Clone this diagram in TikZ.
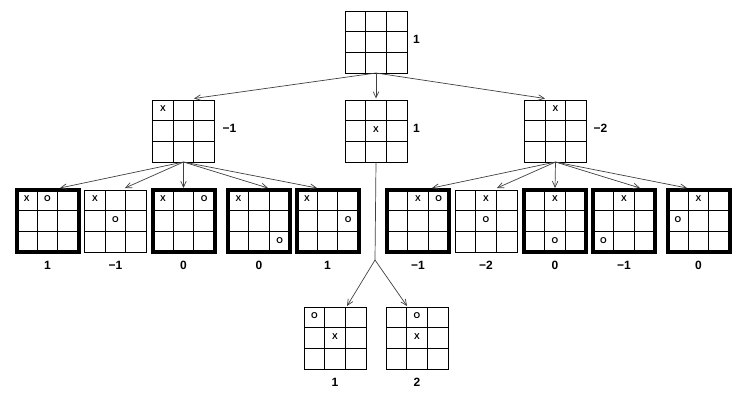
\documentclass[tikz,border=0pt]{standalone}
\usepackage{fontspec}
\setmainfont{Liberation Sans}
\usetikzlibrary{calc}
\usetikzlibrary{arrows.meta}
\usetikzlibrary{positioning}

% one 3x3 board: name, centre, extra style
\newcommand{\drawboard}[3]{%
  \node[Board,#3] (#1) at (#2) {};
  \foreach \k in {1,2}{
    \draw[GridLine] ($(#1.north west)!\k/3!(#1.north east)$) -- ($(#1.south west)!\k/3!(#1.south east)$);
    \draw[GridLine] ($(#1.north west)!\k/3!(#1.south west)$) -- ($(#1.north east)!\k/3!(#1.south east)$);
  }
}
% a mark in a cell: board, column, row, letter
\newcommand{\putmark}[4]{%
  \node[Mark] (#1-#2#3) at ($(#1.north west)+({(#2-0.5)*62/3},{(#3-0.5)*62/3-1.5})$) {#4};
}

\begin{document}
\begin{tikzpicture}[
x=1pt, y=-1pt,
Board/.style={draw=black,line width=1pt,minimum size=62pt,inner sep=0pt,outer sep=0pt},
Win/.style={line width=4pt},
GridLine/.style={draw=black,line width=1pt},
Mark/.style={font=\fontsize{8.5}{8.5}\selectfont\bfseries,inner sep=0pt},
Value/.style={font=\fontsize{12}{12}\selectfont\bfseries,inner sep=0pt,text height=9pt,text depth=0pt},
Move/.style={-{Straight Barb[length=6pt,width=5.5pt]},draw=black!75,line width=0.7pt}
]
\useasboundingbox (0,0) rectangle (751,400);

% top of the tree
\drawboard{root}{376,42}{}
\drawboard{L}{183.5,131}{}
\drawboard{M}{376,131}{}
\drawboard{R}{555.5,131}{}
\putmark{L}{1}{1}{X}
\putmark{M}{2}{2}{X}
\putmark{R}{2}{1}{X}

\node[Value,right=6pt of root,yshift=3pt] (vroot) {1};
\node[Value,right=8pt of L,yshift=3pt] (vL) {−1};
\node[Value,right=6pt of M,yshift=3pt] (vM) {1};
\node[Value,right=7pt of R,yshift=3pt] (vR) {−2};

% second row, left part
\drawboard{L1}{47.5,221}{Win}
\drawboard{L2}{115.5,221}{}
\drawboard{L3}{183.5,221}{Win}
\drawboard{L4}{259,221}{Win}
\drawboard{L5}{327.5,221}{Win}
\foreach \b in {L1,L2,L3,L4,L5} \putmark{\b}{1}{1}{X};
\putmark{L1}{2}{1}{O}
\putmark{L2}{2}{2}{O}
\putmark{L3}{3}{1}{O}
\putmark{L4}{3}{3}{O}
\putmark{L5}{3}{2}{O}

% second row, right part
\drawboard{R1}{418,221}{Win}
\drawboard{R2}{486,221}{}
\drawboard{R3}{555,221}{Win}
\drawboard{R4}{624,221}{Win}
\drawboard{R5}{698.5,221}{Win}
\foreach \b in {R1,R2,R3,R4,R5} \putmark{\b}{2}{1}{X};
\putmark{R1}{3}{1}{O}
\putmark{R2}{2}{2}{O}
\putmark{R3}{2}{3}{O}
\putmark{R4}{1}{3}{O}
\putmark{R5}{1}{2}{O}

% under the middle board
\drawboard{M1}{335,338}{}
\drawboard{M2}{417,338}{}
\putmark{M1}{1}{1}{O}
\putmark{M1}{2}{2}{X}
\putmark{M2}{2}{1}{O}
\putmark{M2}{2}{2}{X}

\foreach \b/\v in {L1/1,L2/−1,L3/0,L4/0,L5/1,R1/−1,R2/−2,R3/0,R4/−1,R5/0,M1/1,M2/2}
  \node[Value,below=8pt of \b] (v\b) {\v};

% moves
\draw[Move] (root.south) -- ($(L.north)+(10.5,-1.5)$);
\draw[Move] (root.south) -- ($(M.north)+(0,-1.5)$);
\draw[Move] (root.south) -- ($(R.north)+(-10.5,-1.5)$);
\foreach \b/\dx in {L1/12.5,L2/9.5,L3/0,L4/9,L5/-10.5}
  \draw[Move] (L.south) -- ($(\b.north)+(\dx,-2)$);
\foreach \b/\dx in {R1/14,R2/11,R3/0,R4/16,R5/-11.5}
  \draw[Move] (R.south) -- ($(\b.north)+(\dx,-2)$);
\coordinate (fork) at ($(M.south)+(-1,98)$);
\draw[draw=black!75,line width=0.7pt] (M.south) -- (fork);
\draw[Move] (fork) -- ($(M1.north)+(12,-1)$);
\draw[Move] (fork) -- ($(M2.north)+(-10,-1)$);

\end{tikzpicture}
\end{document}
